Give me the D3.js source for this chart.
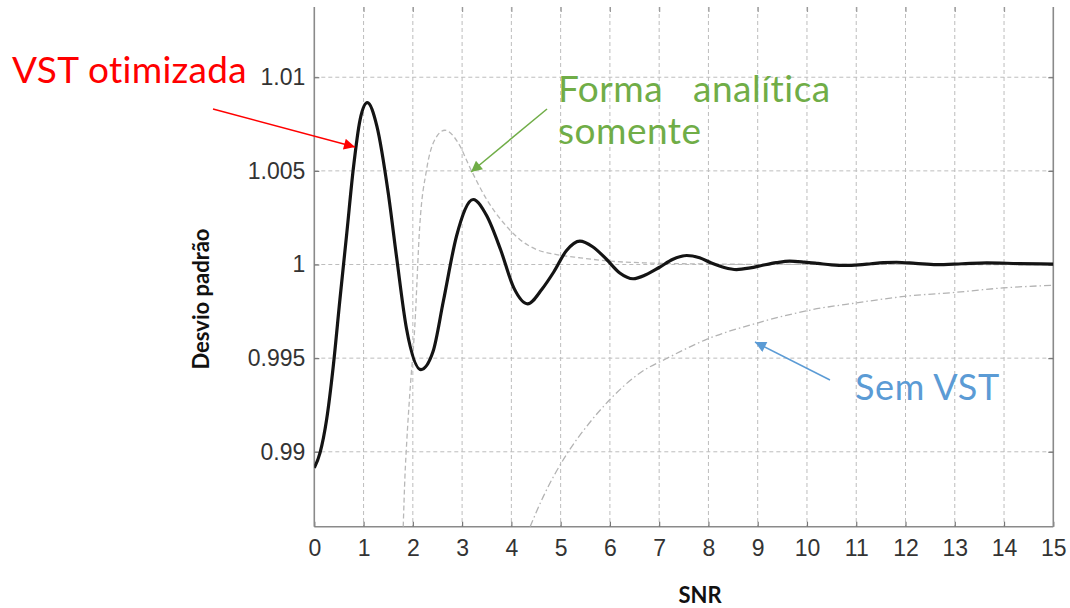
<!DOCTYPE html>
<html>
<head>
<meta charset="utf-8">
<script src="https://cdn.jsdelivr.net/npm/d3@7"></script>
<style>
  html, body { margin: 0; padding: 0; background: #fff; }
  svg { display: block; }
  .ann { white-space: pre; }
</style>
</head>
<body>
<svg id="chart" width="1070" height="608"></svg>
<script>
// SNR values (x) and standard deviation (y) for each curve
const optimizedX = [0, 0.116, 0.25, 0.385, 0.52, 0.66, 0.79, 0.93, 1.076,
  1.27, 1.5, 1.67, 1.87, 2.165,
  2.41, 2.62, 2.89, 3.225,
  3.5, 3.78, 4.05, 4.33,
  4.62, 4.86, 5.12, 5.39,
  5.65, 5.93, 6.2, 6.47,
  6.73, 7.0, 7.28, 7.56,
  7.82, 8.06, 8.32, 8.57,
  8.85, 9.1, 9.38, 9.65,
  9.95, 10.22, 10.5, 10.8,
  11.05, 11.3, 11.55, 11.82, 12.2, 12.63, 13.15, 13.65, 14.3, 15];
const optimizedY = [0.98914, 0.98994, 0.99172, 0.99457, 0.99813, 1.00169, 1.00507, 1.00774, 1.00864,
  1.00739, 1.00383, 1.0004, 0.9966, 0.99439,
  0.99535, 0.99805, 1.00155, 1.00347,
  1.0026, 1.0008, 0.99875, 0.9979,
  0.99868, 0.9996, 1.00075, 1.00125,
  1.00095, 1.00028, 0.99955, 0.99924,
  0.99945, 0.99984, 1.00028, 1.00048,
  1.00036, 1.00008, 0.99984, 0.99973,
  0.99982, 0.99996, 1.0001, 1.00018,
  1.00013, 1.00006, 0.99998, 0.99995,
  0.99998, 1.00004, 1.0001, 1.00012, 1.00006, 0.99999, 1.00004, 1.00009, 1.00005, 1.00002];

const analyticX = [1.805, 1.84, 1.875, 1.94, 2.04, 2.14, 2.28, 2.45, 2.65, 2.92, 3.16, 3.5, 3.84,
  4.17, 4.51, 4.92, 5.39, 6.0, 6.68, 7.5, 9, 15];
const analyticY = [0.986, 0.98869, 0.99047, 0.99315, 0.9967, 1.00205, 1.00508, 1.00668, 1.00717,
  1.0065, 1.00517, 1.00347, 1.00223, 1.00134, 1.0008, 1.00053, 1.00036, 1.00018, 1.00009,
  1.00004, 1.00001, 1.0];

const noVstX = [4.38, 4.65, 5.155, 5.53, 6.0, 6.61, 7.18, 7.96, 9.01, 10.13, 11.0, 12.02, 13.04, 13.98, 15];
const noVstY = [0.986, 0.98762, 0.99, 0.99136, 0.99279, 0.99421, 0.99502, 0.996, 0.99689, 0.9976,
  0.99795, 0.99831, 0.99852, 0.99875, 0.99889];

const xTicks = d3.range(0, 16);
const yTicks = [0.99, 0.995, 1, 1.005, 1.01];
const yTickLabels = ["0.99", "0.995", "1", "1.005", "1.01"];

const xTitle = "SNR";
const yTitle = "Desvio padrão";

const svg = d3.select("#chart");
const plotLeft = 314.3, plotRight = 1053.3, plotTop = 7, plotBottom = 526.7;

const x = d3.scaleLinear().domain([0, 15]).range([plotLeft, plotRight]);
const y = d3.scaleLinear().domain([0.986, 1.01375]).range([plotBottom, plotTop]);

const defs = svg.append("defs");
defs.append("clipPath").attr("id", "plotClip")
  .append("rect").attr("x", plotLeft).attr("y", plotTop)
  .attr("width", plotRight - plotLeft).attr("height", plotBottom - plotTop);

// grid
const grid = svg.append("g");
grid.selectAll("line.gx").data(xTicks.filter(d => d > 0 && d < 15)).join("line")
  .attr("x1", d => x(d)).attr("x2", d => x(d)).attr("y1", plotTop).attr("y2", plotBottom)
  .attr("stroke", "#bdbdbd").attr("stroke-width", 1).attr("stroke-dasharray", "4,3");
grid.selectAll("line.gy").data(yTicks).join("line")
  .attr("x1", plotLeft).attr("x2", plotRight).attr("y1", d => y(d)).attr("y2", d => y(d))
  .attr("stroke", "#bdbdbd").attr("stroke-width", 1).attr("stroke-dasharray", "4,3");

// axes
const xAxis = d3.axisBottom(x).tickValues(xTicks).tickSize(-5).tickPadding(13).tickFormat(d3.format("d"));
const gx = svg.append("g").attr("transform", `translate(0,${plotBottom})`).call(xAxis);
const yAxis = d3.axisLeft(y).tickValues(yTicks).tickSize(-5).tickPadding(9)
  .tickFormat((d, i) => yTickLabels[i]);
const gy = svg.append("g").attr("transform", `translate(${plotLeft},0)`).call(yAxis);
[gx, gy].forEach(g => {
  g.select(".domain").attr("stroke", "#8a8a8a").attr("stroke-width", 1.6);
  g.selectAll(".tick line").attr("stroke", "#777").attr("stroke-width", 1.2);
  g.selectAll(".tick text").attr("fill", "#333").attr("font-family", "Liberation Sans, Arial, sans-serif")
    .attr("font-size", 23);
});
gy.select(".domain").attr("d", `M0,${plotTop}V${plotBottom}`);
gx.select(".domain").attr("d", `M${plotLeft},0H${plotRight}`);

// right border with inward ticks
const yRight = d3.axisRight(y).tickValues(yTicks).tickSize(-5).tickFormat("");
const gr = svg.append("g").attr("transform", `translate(${plotRight},0)`).call(yRight);
gr.select(".domain").attr("d", `M0,${plotTop}V${plotBottom}`).attr("stroke", "#8a8a8a").attr("stroke-width", 1.6);
gr.selectAll(".tick line").attr("stroke", "#777").attr("stroke-width", 1.2);

// short tick stubs along the top edge
const xTop = d3.axisTop(x).tickValues(xTicks.filter(d => d > 0 && d < 15)).tickSize(-5).tickFormat("");
const gt = svg.append("g").attr("transform", `translate(0,${plotTop})`).call(xTop);
gt.select(".domain").remove();
gt.selectAll(".tick line").attr("stroke", "#999").attr("stroke-width", 1.2);

// curves
const line = d3.line().x(d => x(d[0])).y(d => y(d[1])).curve(d3.curveMonotoneX);
const curves = svg.append("g").attr("clip-path", "url(#plotClip)");
curves.append("path").datum(d3.zip(noVstX, noVstY)).attr("d", line)
  .attr("fill", "none").attr("stroke", "#b3b3b3").attr("stroke-width", 1.3)
  .attr("stroke-dasharray", "7,3,1.5,3");
curves.append("path").datum(d3.zip(analyticX, analyticY)).attr("d", line)
  .attr("fill", "none").attr("stroke", "#b8b8b8").attr("stroke-width", 1.3)
  .attr("stroke-dasharray", "5,3");
curves.append("path").datum(d3.zip(optimizedX, optimizedY)).attr("d", line)
  .attr("fill", "none").attr("stroke", "#141414").attr("stroke-width", 3.2)
  .attr("stroke-linejoin", "round");

// axis titles
svg.append("text").attr("x", 700).attr("y", 603).attr("text-anchor", "middle")
  .attr("font-family", "Lato, sans-serif").attr("font-weight", 700).attr("font-size", 22)
  .attr("fill", "#111").text(xTitle);
svg.append("text").attr("transform", "translate(209,299) rotate(-90)").attr("text-anchor", "middle")
  .attr("font-family", "Lato, sans-serif").attr("font-weight", 700).attr("font-size", 22)
  .attr("fill", "#111").text(yTitle);

// annotations with arrows
function marker(id, color) {
  defs.append("marker").attr("id", id).attr("viewBox", "0 0 10 10").attr("refX", 10).attr("refY", 5)
    .attr("markerWidth", 13).attr("markerHeight", 11).attr("markerUnits", "userSpaceOnUse")
    .attr("orient", "auto")
    .append("path").attr("d", "M0,0L10,5L0,10Z").attr("fill", color);
}
marker("arRed", "#ff0000");
marker("arGreen", "#70ad47");
marker("arBlue", "#5b9bd5");

const annFont = "Lato, sans-serif";
svg.append("text").attr("class", "ann").attr("x", 12).attr("y", 83).attr("font-family", annFont)
  .attr("font-size", 37).attr("letter-spacing", 0.3).attr("fill", "#ff0000").text("VST otimizada");
svg.append("line").attr("x1", 213).attr("y1", 109).attr("x2", 355).attr("y2", 147)
  .attr("stroke", "#ff0000").attr("stroke-width", 1.5).attr("marker-end", "url(#arRed)");

svg.append("text").attr("class", "ann").attr("x", 558).attr("y", 102).attr("font-family", annFont)
  .attr("font-size", 37).attr("letter-spacing", 0.5).attr("fill", "#70ad47").text("Forma   analítica");
svg.append("text").attr("class", "ann").attr("x", 558).attr("y", 144).attr("font-family", annFont)
  .attr("font-size", 37).attr("letter-spacing", 0.5).attr("fill", "#70ad47").text("somente");
svg.append("line").attr("x1", 547).attr("y1", 109).attr("x2", 471).attr("y2", 172)
  .attr("stroke", "#70ad47").attr("stroke-width", 1.5).attr("marker-end", "url(#arGreen)");

svg.append("text").attr("class", "ann").attr("x", 855).attr("y", 400).attr("font-family", annFont)
  .attr("font-size", 36).attr("letter-spacing", 0.6).attr("fill", "#5b9bd5").text("Sem VST");
svg.append("line").attr("x1", 830).attr("y1", 380).attr("x2", 755).attr("y2", 342)
  .attr("stroke", "#5b9bd5").attr("stroke-width", 1.5).attr("marker-end", "url(#arBlue)");
</script>
</body>
</html>
